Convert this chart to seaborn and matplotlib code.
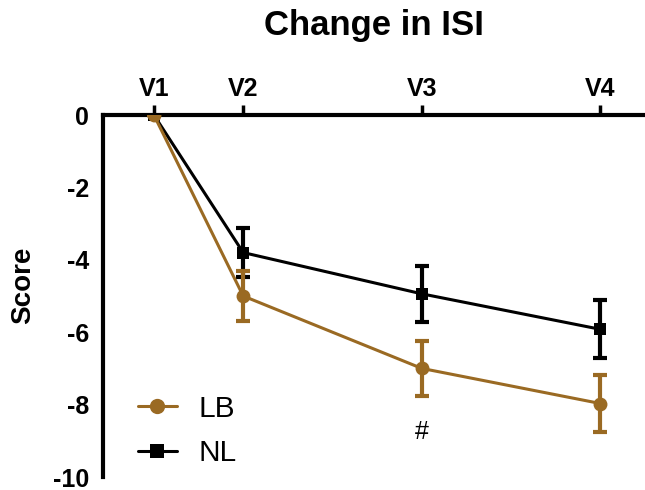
import matplotlib
matplotlib.use("Agg")
import matplotlib.pyplot as plt
import seaborn as sns
import pandas as pd
import numpy as np
from matplotlib.lines import Line2D

visits = ["V1", "V2", "V3", "V4"]
visit_pos = [0, 1, 3, 5]
lb_mean = [0.0, -5.0, -7.0, -7.97]
lb_err = [0.0, 0.68, 0.77, 0.78]
nl_mean = [0.0, -3.8, -4.94, -5.92]
nl_err = [0.0, 0.67, 0.78, 0.8]
groups = ["LB", "NL"]
colors = {"LB": "#9A6A23", "NL": "#000000"}

sns.set_style("white")
plt.rcParams['font.family'] = ['Liberation Sans', 'DejaVu Sans']
plt.rcParams['text.color'] = 'black'
plt.rcParams['axes.labelcolor'] = 'black'
plt.rcParams['xtick.color'] = 'black'
plt.rcParams['ytick.color'] = 'black'

df = pd.DataFrame({
    "pos": visit_pos * 2,
    "score": lb_mean + nl_mean,
    "err": lb_err + nl_err,
    "group": ["LB"] * 4 + ["NL"] * 4,
})

fig = plt.figure(figsize=(6.45, 4.9), dpi=100)
ax = fig.add_axes([103/645, 1 - 477/490, 1 - 103/645, (477 - 115)/490])

# NL first, LB on top
for g, marker, ms, z in [("NL", "s", 9, 2), ("LB", "o", 10, 3)]:
    sub = df[df.group == g]
    sns.lineplot(data=sub, x="pos", y="score", ax=ax, color=colors[g],
                 marker=marker, markersize=ms, linewidth=2.2,
                 markeredgewidth=0, label=g, zorder=z, legend=False)
    ax.errorbar(sub["pos"], sub["score"], yerr=sub["err"], fmt="none",
                ecolor=colors[g], elinewidth=3, capsize=5, capthick=3,
                zorder=z)

ax.text(3, -8.77, "#", ha="center", va="center", fontsize=18, color="black")

ax.set_xlim(-0.57, 5.5)
ax.set_ylim(-10, 0)
ax.set_xticks(visit_pos)
ax.set_xticklabels(visits)
ax.set_yticks([0, -2, -4, -6, -8, -10])
ax.set_yticklabels(["0", "-2", "-4", "-6", "-8", "-10"])
ax.xaxis.tick_top()
ax.xaxis.set_label_position("top")
ax.set_xlabel("")
ax.set_ylabel("")
ax.tick_params(axis="both", which="major", direction="out", length=7,
               width=2.5, labelsize=18, color="black", labelcolor="black",
               pad=3)
for lab in ax.get_xticklabels() + ax.get_yticklabels():
    lab.set_fontweight("bold")

for side in ["bottom", "right"]:
    ax.spines[side].set_visible(False)
for side in ["top", "left"]:
    ax.spines[side].set_visible(True)
    ax.spines[side].set_linewidth(3)
    ax.spines[side].set_color("black")

fig.text(23/645, 1 - 285/490, "Score", rotation=90, ha="center", va="center",
         fontsize=20, fontweight="bold", color="black")
fig.text(374/645, 1 - 35/490, "Change in ISI", ha="center", va="baseline",
         fontsize=25, fontweight="bold", color="black")

handles = [Line2D([0], [0], color=colors["LB"], marker="o", markersize=11,
                  linewidth=2.2, markeredgewidth=0),
           Line2D([0], [0], color=colors["NL"], marker="s", markersize=9.5,
                  linewidth=2.2, markeredgewidth=0)]
leg = ax.legend(handles, groups, loc="lower left", bbox_to_anchor=(0.042, -0.006),
                frameon=False, fontsize=21.5, handlelength=1.3,
                handletextpad=0.75, labelspacing=0.55, borderaxespad=0)
for t in leg.get_texts():
    t.set_color("black")

fig.savefig("out.png", dpi=100)
